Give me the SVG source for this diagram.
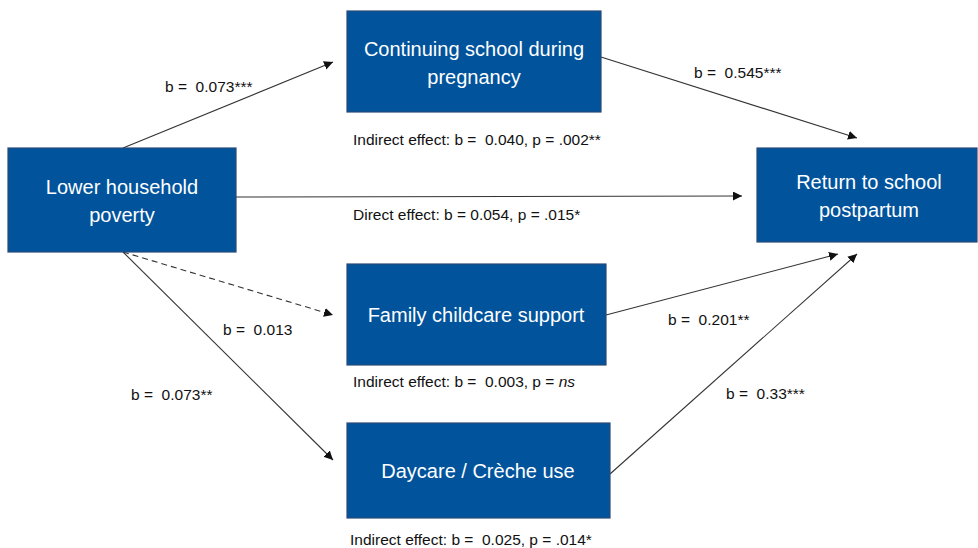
<svg xmlns="http://www.w3.org/2000/svg" width="978" height="548" viewBox="0 0 978 548">
<defs>
<style>
.box{fill:#01539c;stroke:#2a4a78;stroke-width:1.2}
.nt{font-family:"Liberation Sans",Arial,sans-serif;font-size:20px;fill:#ffffff;text-anchor:middle}
.lb{font-family:"Liberation Sans",Arial,sans-serif;font-size:15.5px;fill:#111111;white-space:pre}
.ln{stroke:#333333;stroke-width:1.1;fill:none;marker-end:url(#ah)}
.dash{stroke-dasharray:6 4}
</style>
<marker id="ah" viewBox="0 0 10 10" refX="10" refY="5" markerWidth="9" markerHeight="9" markerUnits="userSpaceOnUse" orient="auto">
<path d="M0,0 L10,5 L0,10 z" fill="#111111"/>
</marker>
</defs>
<rect width="978" height="548" fill="#ffffff"/>
<g id="connectors">
<line class="ln" x1="123" y1="148" x2="333" y2="62"/>
<line class="ln" x1="601" y1="57" x2="857" y2="138"/>
<line class="ln" x1="236" y1="197" x2="742" y2="196"/>
<line class="ln dash" x1="123" y1="252" x2="333" y2="315"/>
<line class="ln" x1="123" y1="252" x2="333" y2="460"/>
<line class="ln" x1="606" y1="315" x2="838" y2="254"/>
<line class="ln" x1="610" y1="474" x2="857" y2="254"/>
</g>
<g id="labels" xml:space="preserve">
<text class="lb" x="165" y="92">b =  0.073***</text>
<text class="lb" x="694" y="78">b =  0.545***</text>
<text class="lb" x="353" y="145">Indirect effect: b =  0.040, p = .002**</text>
<text class="lb" x="353" y="220">Direct effect: b = 0.054, p = .015*</text>
<text class="lb" x="223" y="335">b =  0.013</text>
<text class="lb" x="353" y="387">Indirect effect: b =  0.003, p = <tspan font-style="italic">ns</tspan></text>
<text class="lb" x="131" y="400">b =  0.073**</text>
<text class="lb" x="668" y="325">b =  0.201**</text>
<text class="lb" x="726" y="399">b =  0.33***</text>
<text class="lb" x="350" y="545">Indirect effect: b =  0.025, p = .014*</text>
</g>
<g id="lower-household-poverty">
<rect class="box" x="8" y="148" width="228" height="104"/>
<text class="nt" x="122" y="194">Lower household</text>
<text class="nt" x="122" y="222">poverty</text>
</g>
<g id="continuing-school">
<rect class="box" x="347" y="11" width="254" height="101"/>
<text class="nt" x="474" y="56">Continuing school during</text>
<text class="nt" x="474" y="84">pregnancy</text>
</g>
<g id="return-to-school">
<rect class="box" x="757" y="148" width="220" height="94"/>
<text class="nt" x="869" y="189">Return to school</text>
<text class="nt" x="869" y="217">postpartum</text>
</g>
<g id="family-childcare">
<rect class="box" x="347" y="264" width="259" height="101"/>
<text class="nt" x="476" y="322">Family childcare support</text>
</g>
<g id="daycare">
<rect class="box" x="347" y="423" width="263" height="95"/>
<text class="nt" x="478" y="478">Daycare / Crèche use</text>
</g>
</svg>
